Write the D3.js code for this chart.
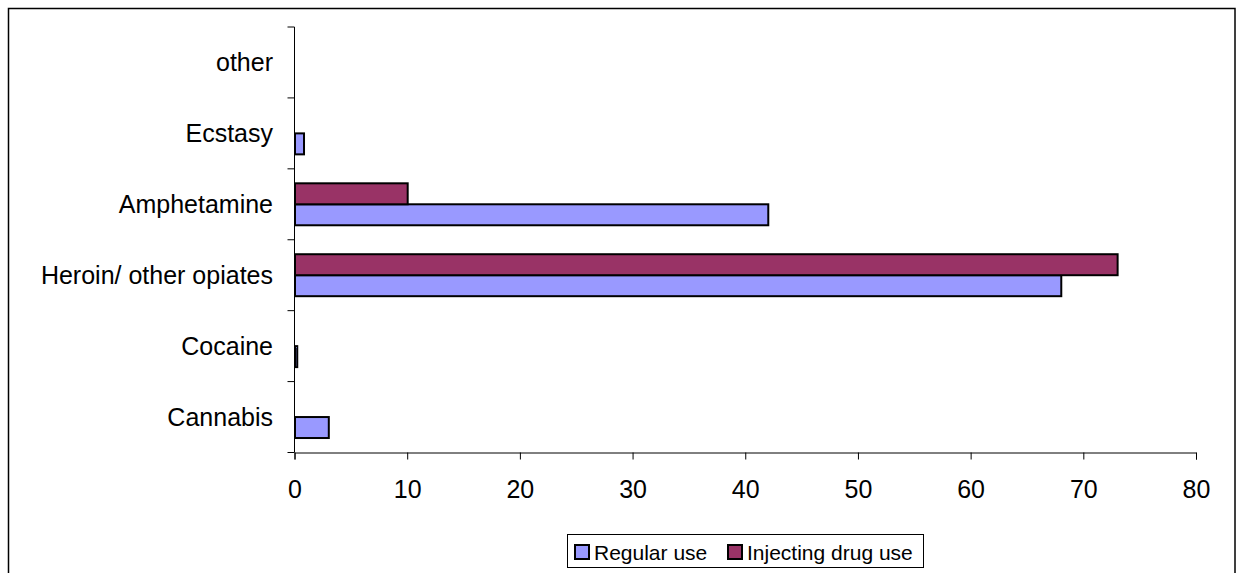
<!DOCTYPE html>
<html><head><meta charset="utf-8">
<script src="https://cdn.jsdelivr.net/npm/d3@7"></script>
<style>body{margin:0;background:#fff}svg{display:block;font-family:"Liberation Sans",Arial,sans-serif}</style>
</head><body>
<svg id="chart" width="1243" height="573"></svg>
<script>
const categories = ["Cannabis","Cocaine","Heroin/ other opiates","Amphetamine","Ecstasy","other"];
const seriesNames = ["Regular use","Injecting drug use"];
const regularUse = [3, 0.2, 68, 42, 0.8, 0];
const injectingUse = [0, 0, 73, 10, 0, 0];
const xTicks = [0,10,20,30,40,50,60,70,80];
const colors = ["#9999FF","#993366"];

const svg = d3.select("#chart");
// outer frame
svg.append("rect").attr("x",8.5).attr("y",8.5).attr("width",1226.5).attr("height",580)
  .attr("fill","none").attr("stroke","#000").attr("stroke-width",1.5);

const pLeft = 294.5, pRight = 1196, pTop = 27, pBottom = 452.5;
const x = d3.scaleLinear().domain([0,80]).range([pLeft,pRight]);
const y = d3.scaleBand().domain(categories.slice().reverse()).range([pTop,pBottom]).padding(0);
const inner = d3.scaleBand().domain(["Injecting drug use","Regular use"]).range([0,y.bandwidth()]).paddingInner(0).paddingOuter(0.69);

const rows = [];
categories.forEach((c,i)=>{
  rows.push({cat:c, s:"Regular use", v:regularUse[i], col:colors[0]});
  rows.push({cat:c, s:"Injecting drug use", v:injectingUse[i], col:colors[1]});
});

svg.append("g").selectAll("rect").data(rows.filter(d=>d.v>0)).join("rect")
  .attr("x", x(0)+0.5)
  .attr("y", d=>y(d.cat)+inner(d.s))
  .attr("width", d=>x(d.v)-x(0))
  .attr("height", inner.bandwidth())
  .attr("fill", d=>d.col).attr("stroke","#000").attr("stroke-width",2);

// x axis
const xa = svg.append("g").attr("transform",`translate(0,${pBottom})`)
  .call(d3.axisBottom(x).tickValues(xTicks).tickSize(7).tickPadding(21).tickFormat(d3.format("d")));
xa.select(".domain").attr("stroke","#000");
xa.selectAll("text").attr("font-size",25).attr("fill","#000").attr("font-family","Liberation Sans, Arial, sans-serif");

// y axis line and ticks at band boundaries
const ya = svg.append("g");
ya.append("line").attr("x1",pLeft).attr("x2",pLeft).attr("y1",pTop).attr("y2",pBottom).attr("stroke","#000");
const bounds = categories.map(c=>y(c)).concat([pBottom]);
ya.selectAll("line.t").data(bounds).join("line").attr("class","t")
  .attr("x1",pLeft-7).attr("x2",pLeft).attr("y1",d=>d).attr("y2",d=>d).attr("stroke","#000");
ya.selectAll("text").data(categories).join("text")
  .attr("x",pLeft-21.5).attr("y",d=>y(d)+y.bandwidth()/2)
  .attr("dy","0.34em").attr("text-anchor","end").attr("font-size",25).attr("fill","#000")
  .text(d=>d);

// legend
const lg = svg.append("g");
lg.append("rect").attr("x",567.5).attr("y",534.5).attr("width",356).attr("height",33)
  .attr("fill","#fff").attr("stroke","#000").attr("stroke-width",1);
const legItems = [{name:seriesNames[0], col:colors[0], x:574},{name:seriesNames[1], col:colors[1], x:727}];
const li = lg.selectAll("g").data(legItems).join("g").attr("transform",d=>`translate(${d.x},544)`);
li.append("rect").attr("x",1).attr("y",1).attr("width",14).attr("height",14).attr("fill",d=>d.col).attr("stroke","#000").attr("stroke-width",2);
li.append("text").attr("x",20).attr("y",8).attr("dy","0.36em").attr("font-size",21).attr("fill","#000").text(d=>d.name);
</script>
</body></html>
